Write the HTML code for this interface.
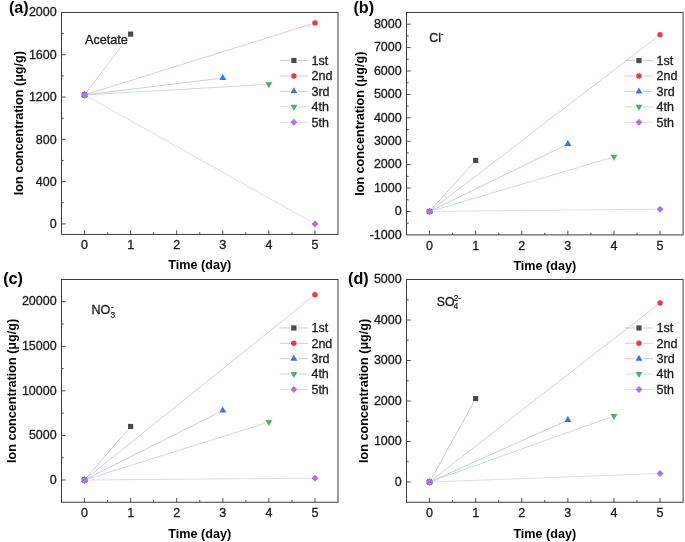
<!DOCTYPE html>
<html lang="en">
<head>
<meta charset="utf-8">
<title>Ion concentration vs time</title>
<style>
html,body{margin:0;padding:0;background:#fff;}
body{width:685px;height:542px;overflow:hidden;}
svg{display:block;}
text{font-family:"Liberation Sans", sans-serif;fill:#1a1a1a;}
.tk{font-size:12.5px;stroke:#1a1a1a;stroke-width:0.3px;}
.lg{font-size:12.5px;stroke:#1a1a1a;stroke-width:0.3px;}
.an{font-size:12.6px;stroke:#1a1a1a;stroke-width:0.3px;}
.ss{font-size:8.4px;stroke:#1a1a1a;stroke-width:0.2px;}
.ax{font-size:12.6px;font-weight:bold;fill:#000;}
.ay{font-size:12.6px;font-weight:bold;fill:#000;}
.pl{font-size:16.2px;font-weight:bold;fill:#000;}
</style>
</head>
<body>
<svg width="685" height="542" viewBox="0 0 685 542">
<rect x="0" y="0" width="685" height="542" fill="#ffffff"/>
<line x1="86.90" y1="91.80" x2="128.27" y2="37.23" stroke="#aeaeae" stroke-width="0.62"/>
<line x1="88.26" y1="93.75" x2="311.24" y2="24.18" stroke="#d9a5aa" stroke-width="0.62"/>
<line x1="88.41" y1="94.43" x2="218.92" y2="78.47" stroke="#9fb6d0" stroke-width="0.62"/>
<line x1="88.44" y1="94.68" x2="264.98" y2="84.56" stroke="#a6ccb9" stroke-width="0.62"/>
<line x1="87.94" y1="96.81" x2="311.56" y2="221.97" stroke="#d2c3e4" stroke-width="0.62"/>
<rect x="81.94" y="92.31" width="5.20" height="5.20" fill="#4a4a4a"/>
<rect x="128.03" y="31.52" width="5.20" height="5.20" fill="#4a4a4a"/>
<circle cx="84.54" cy="94.91" r="2.75" fill="#ee3a45"/>
<circle cx="314.96" cy="23.02" r="2.75" fill="#ee3a45"/>
<polygon points="84.54,90.91 88.04,96.91 81.04,96.91" fill="#3f72e6"/>
<polygon points="222.79,73.99 226.29,79.99 219.29,79.99" fill="#3f72e6"/>
<polygon points="81.04,92.81 88.04,92.81 84.54,98.81" fill="#4fb06a"/>
<polygon points="265.38,82.24 272.38,82.24 268.88,88.24" fill="#4fb06a"/>
<polygon points="84.54,91.41 88.04,94.91 84.54,98.41 81.04,94.91" fill="#b26ff0"/>
<polygon points="314.96,220.38 318.46,223.88 314.96,227.38 311.46,223.88" fill="#b26ff0"/>
<rect x="61.50" y="12.45" width="276.50" height="222.00" fill="none" stroke="#3c3c3c" stroke-width="1"/>
<line x1="84.54" y1="234.45" x2="84.54" y2="230.25" stroke="#3c3c3c" stroke-width="0.9"/>
<text x="84.54" y="249.25" text-anchor="middle" class="tk">0</text>
<line x1="107.58" y1="234.45" x2="107.58" y2="232.25" stroke="#3c3c3c" stroke-width="0.9"/>
<line x1="130.62" y1="234.45" x2="130.62" y2="230.25" stroke="#3c3c3c" stroke-width="0.9"/>
<text x="130.62" y="249.25" text-anchor="middle" class="tk">1</text>
<line x1="153.67" y1="234.45" x2="153.67" y2="232.25" stroke="#3c3c3c" stroke-width="0.9"/>
<line x1="176.71" y1="234.45" x2="176.71" y2="230.25" stroke="#3c3c3c" stroke-width="0.9"/>
<text x="176.71" y="249.25" text-anchor="middle" class="tk">2</text>
<line x1="199.75" y1="234.45" x2="199.75" y2="232.25" stroke="#3c3c3c" stroke-width="0.9"/>
<line x1="222.79" y1="234.45" x2="222.79" y2="230.25" stroke="#3c3c3c" stroke-width="0.9"/>
<text x="222.79" y="249.25" text-anchor="middle" class="tk">3</text>
<line x1="245.83" y1="234.45" x2="245.83" y2="232.25" stroke="#3c3c3c" stroke-width="0.9"/>
<line x1="268.88" y1="234.45" x2="268.88" y2="230.25" stroke="#3c3c3c" stroke-width="0.9"/>
<text x="268.88" y="249.25" text-anchor="middle" class="tk">4</text>
<line x1="291.92" y1="234.45" x2="291.92" y2="232.25" stroke="#3c3c3c" stroke-width="0.9"/>
<line x1="314.96" y1="234.45" x2="314.96" y2="230.25" stroke="#3c3c3c" stroke-width="0.9"/>
<text x="314.96" y="249.25" text-anchor="middle" class="tk">5</text>
<line x1="61.50" y1="223.88" x2="65.70" y2="223.88" stroke="#3c3c3c" stroke-width="0.9"/>
<text x="56.70" y="228.23" text-anchor="end" class="tk">0</text>
<line x1="61.50" y1="181.59" x2="65.70" y2="181.59" stroke="#3c3c3c" stroke-width="0.9"/>
<text x="56.70" y="185.94" text-anchor="end" class="tk">400</text>
<line x1="61.50" y1="139.31" x2="65.70" y2="139.31" stroke="#3c3c3c" stroke-width="0.9"/>
<text x="56.70" y="143.66" text-anchor="end" class="tk">800</text>
<line x1="61.50" y1="97.02" x2="65.70" y2="97.02" stroke="#3c3c3c" stroke-width="0.9"/>
<text x="56.70" y="101.37" text-anchor="end" class="tk">1200</text>
<line x1="61.50" y1="54.74" x2="65.70" y2="54.74" stroke="#3c3c3c" stroke-width="0.9"/>
<text x="56.70" y="59.09" text-anchor="end" class="tk">1600</text>
<text x="56.70" y="15.90" text-anchor="end" class="tk">2000</text>
<line x1="61.50" y1="202.74" x2="63.70" y2="202.74" stroke="#3c3c3c" stroke-width="0.9"/>
<line x1="61.50" y1="160.45" x2="63.70" y2="160.45" stroke="#3c3c3c" stroke-width="0.9"/>
<line x1="61.50" y1="118.16" x2="63.70" y2="118.16" stroke="#3c3c3c" stroke-width="0.9"/>
<line x1="61.50" y1="75.88" x2="63.70" y2="75.88" stroke="#3c3c3c" stroke-width="0.9"/>
<line x1="61.50" y1="33.59" x2="63.70" y2="33.59" stroke="#3c3c3c" stroke-width="0.9"/>
<text x="199.75" y="269.25" text-anchor="middle" class="ax">Time (day)</text>
<text transform="translate(23.45,123.15) rotate(-90)" text-anchor="middle" class="ay">Ion concentration (μg/g)</text>
<text x="8.90" y="13.30" class="pl">(a)</text>
<rect x="84.8" y="31" width="42.6" height="13.3" fill="#fff"/><text x="85" y="44.1" class="an">Acetate</text>
<line x1="279.90" y1="60.47" x2="290.00" y2="60.47" stroke="#aeaeae" stroke-width="0.62"/>
<line x1="297.80" y1="60.47" x2="307.90" y2="60.47" stroke="#aeaeae" stroke-width="0.62"/>
<rect x="291.30" y="57.87" width="5.20" height="5.20" fill="#4a4a4a"/>
<text x="311.50" y="64.87" class="lg">1st</text>
<line x1="279.90" y1="75.90" x2="290.00" y2="75.90" stroke="#d9a5aa" stroke-width="0.62"/>
<line x1="297.80" y1="75.90" x2="307.90" y2="75.90" stroke="#d9a5aa" stroke-width="0.62"/>
<circle cx="293.90" cy="75.90" r="2.75" fill="#ee3a45"/>
<text x="311.50" y="80.30" class="lg">2nd</text>
<line x1="279.90" y1="91.33" x2="290.00" y2="91.33" stroke="#9fb6d0" stroke-width="0.62"/>
<line x1="297.80" y1="91.33" x2="307.90" y2="91.33" stroke="#9fb6d0" stroke-width="0.62"/>
<polygon points="293.90,87.33 297.40,93.33 290.40,93.33" fill="#3f72e6"/>
<text x="311.50" y="95.73" class="lg">3rd</text>
<line x1="279.90" y1="106.76" x2="290.00" y2="106.76" stroke="#a6ccb9" stroke-width="0.62"/>
<line x1="297.80" y1="106.76" x2="307.90" y2="106.76" stroke="#a6ccb9" stroke-width="0.62"/>
<polygon points="290.40,104.66 297.40,104.66 293.90,110.66" fill="#4fb06a"/>
<text x="311.50" y="111.16" class="lg">4th</text>
<line x1="279.90" y1="122.19" x2="290.00" y2="122.19" stroke="#d2c3e4" stroke-width="0.62"/>
<line x1="297.80" y1="122.19" x2="307.90" y2="122.19" stroke="#d2c3e4" stroke-width="0.62"/>
<polygon points="293.90,118.69 297.40,122.19 293.90,125.69 290.40,122.19" fill="#b26ff0"/>
<text x="311.50" y="126.59" class="lg">5th</text>
<line x1="432.16" y1="208.59" x2="473.04" y2="163.33" stroke="#aeaeae" stroke-width="0.62"/>
<line x1="432.64" y1="209.11" x2="656.96" y2="37.07" stroke="#d9a5aa" stroke-width="0.62"/>
<line x1="433.06" y1="209.77" x2="564.34" y2="145.76" stroke="#9fb6d0" stroke-width="0.62"/>
<line x1="433.29" y1="210.38" x2="610.21" y2="158.03" stroke="#a6ccb9" stroke-width="0.62"/>
<line x1="433.45" y1="211.44" x2="656.15" y2="209.18" stroke="#d2c3e4" stroke-width="0.62"/>
<rect x="426.95" y="208.88" width="5.20" height="5.20" fill="#4a4a4a"/>
<rect x="473.05" y="157.84" width="5.20" height="5.20" fill="#4a4a4a"/>
<circle cx="429.55" cy="211.48" r="2.75" fill="#ee3a45"/>
<circle cx="660.05" cy="34.69" r="2.75" fill="#ee3a45"/>
<polygon points="429.55,207.48 433.05,213.48 426.05,213.48" fill="#3f72e6"/>
<polygon points="567.85,140.05 571.35,146.05 564.35,146.05" fill="#3f72e6"/>
<polygon points="426.05,209.38 433.05,209.38 429.55,215.38" fill="#4fb06a"/>
<polygon points="610.45,154.83 617.45,154.83 613.95,160.83" fill="#4fb06a"/>
<polygon points="429.55,207.98 433.05,211.48 429.55,214.98 426.05,211.48" fill="#b26ff0"/>
<polygon points="660.05,205.64 663.55,209.14 660.05,212.64 656.55,209.14" fill="#b26ff0"/>
<rect x="406.50" y="12.45" width="276.60" height="222.45" fill="none" stroke="#3c3c3c" stroke-width="1"/>
<line x1="429.55" y1="234.90" x2="429.55" y2="230.70" stroke="#3c3c3c" stroke-width="0.9"/>
<text x="429.55" y="249.90" text-anchor="middle" class="tk">0</text>
<line x1="452.60" y1="234.90" x2="452.60" y2="232.70" stroke="#3c3c3c" stroke-width="0.9"/>
<line x1="475.65" y1="234.90" x2="475.65" y2="230.70" stroke="#3c3c3c" stroke-width="0.9"/>
<text x="475.65" y="249.90" text-anchor="middle" class="tk">1</text>
<line x1="498.70" y1="234.90" x2="498.70" y2="232.70" stroke="#3c3c3c" stroke-width="0.9"/>
<line x1="521.75" y1="234.90" x2="521.75" y2="230.70" stroke="#3c3c3c" stroke-width="0.9"/>
<text x="521.75" y="249.90" text-anchor="middle" class="tk">2</text>
<line x1="544.80" y1="234.90" x2="544.80" y2="232.70" stroke="#3c3c3c" stroke-width="0.9"/>
<line x1="567.85" y1="234.90" x2="567.85" y2="230.70" stroke="#3c3c3c" stroke-width="0.9"/>
<text x="567.85" y="249.90" text-anchor="middle" class="tk">3</text>
<line x1="590.90" y1="234.90" x2="590.90" y2="232.70" stroke="#3c3c3c" stroke-width="0.9"/>
<line x1="613.95" y1="234.90" x2="613.95" y2="230.70" stroke="#3c3c3c" stroke-width="0.9"/>
<text x="613.95" y="249.90" text-anchor="middle" class="tk">4</text>
<line x1="637.00" y1="234.90" x2="637.00" y2="232.70" stroke="#3c3c3c" stroke-width="0.9"/>
<line x1="660.05" y1="234.90" x2="660.05" y2="230.70" stroke="#3c3c3c" stroke-width="0.9"/>
<text x="660.05" y="249.90" text-anchor="middle" class="tk">5</text>
<text x="401.70" y="238.65" text-anchor="end" class="tk">-1000</text>
<line x1="406.50" y1="211.48" x2="410.70" y2="211.48" stroke="#3c3c3c" stroke-width="0.9"/>
<text x="401.70" y="215.23" text-anchor="end" class="tk">0</text>
<line x1="406.50" y1="188.07" x2="410.70" y2="188.07" stroke="#3c3c3c" stroke-width="0.9"/>
<text x="401.70" y="191.82" text-anchor="end" class="tk">1000</text>
<line x1="406.50" y1="164.65" x2="410.70" y2="164.65" stroke="#3c3c3c" stroke-width="0.9"/>
<text x="401.70" y="168.40" text-anchor="end" class="tk">2000</text>
<line x1="406.50" y1="141.24" x2="410.70" y2="141.24" stroke="#3c3c3c" stroke-width="0.9"/>
<text x="401.70" y="144.99" text-anchor="end" class="tk">3000</text>
<line x1="406.50" y1="117.82" x2="410.70" y2="117.82" stroke="#3c3c3c" stroke-width="0.9"/>
<text x="401.70" y="121.57" text-anchor="end" class="tk">4000</text>
<line x1="406.50" y1="94.41" x2="410.70" y2="94.41" stroke="#3c3c3c" stroke-width="0.9"/>
<text x="401.70" y="98.16" text-anchor="end" class="tk">5000</text>
<line x1="406.50" y1="70.99" x2="410.70" y2="70.99" stroke="#3c3c3c" stroke-width="0.9"/>
<text x="401.70" y="74.74" text-anchor="end" class="tk">6000</text>
<line x1="406.50" y1="47.57" x2="410.70" y2="47.57" stroke="#3c3c3c" stroke-width="0.9"/>
<text x="401.70" y="51.32" text-anchor="end" class="tk">7000</text>
<line x1="406.50" y1="24.16" x2="410.70" y2="24.16" stroke="#3c3c3c" stroke-width="0.9"/>
<text x="401.70" y="27.91" text-anchor="end" class="tk">8000</text>
<line x1="406.50" y1="223.19" x2="408.70" y2="223.19" stroke="#3c3c3c" stroke-width="0.9"/>
<line x1="406.50" y1="199.78" x2="408.70" y2="199.78" stroke="#3c3c3c" stroke-width="0.9"/>
<line x1="406.50" y1="176.36" x2="408.70" y2="176.36" stroke="#3c3c3c" stroke-width="0.9"/>
<line x1="406.50" y1="152.94" x2="408.70" y2="152.94" stroke="#3c3c3c" stroke-width="0.9"/>
<line x1="406.50" y1="129.53" x2="408.70" y2="129.53" stroke="#3c3c3c" stroke-width="0.9"/>
<line x1="406.50" y1="106.11" x2="408.70" y2="106.11" stroke="#3c3c3c" stroke-width="0.9"/>
<line x1="406.50" y1="82.70" x2="408.70" y2="82.70" stroke="#3c3c3c" stroke-width="0.9"/>
<line x1="406.50" y1="59.28" x2="408.70" y2="59.28" stroke="#3c3c3c" stroke-width="0.9"/>
<line x1="406.50" y1="35.87" x2="408.70" y2="35.87" stroke="#3c3c3c" stroke-width="0.9"/>
<text x="544.80" y="270.40" text-anchor="middle" class="ax">Time (day)</text>
<text transform="translate(363.80,123.72) rotate(-90)" text-anchor="middle" class="ay">Ion concentration (μg/g)</text>
<text x="353.40" y="13.20" class="pl">(b)</text>
<text x="429.3" y="42.15" class="an" style="font-size:12.4px">Cl</text><text x="440.7" y="37.0" class="ss">-</text>
<line x1="624.95" y1="60.60" x2="635.05" y2="60.60" stroke="#aeaeae" stroke-width="0.62"/>
<line x1="642.85" y1="60.60" x2="652.95" y2="60.60" stroke="#aeaeae" stroke-width="0.62"/>
<rect x="636.35" y="58.00" width="5.20" height="5.20" fill="#4a4a4a"/>
<text x="656.55" y="65.00" class="lg">1st</text>
<line x1="624.95" y1="76.04" x2="635.05" y2="76.04" stroke="#d9a5aa" stroke-width="0.62"/>
<line x1="642.85" y1="76.04" x2="652.95" y2="76.04" stroke="#d9a5aa" stroke-width="0.62"/>
<circle cx="638.95" cy="76.04" r="2.75" fill="#ee3a45"/>
<text x="656.55" y="80.44" class="lg">2nd</text>
<line x1="624.95" y1="91.48" x2="635.05" y2="91.48" stroke="#9fb6d0" stroke-width="0.62"/>
<line x1="642.85" y1="91.48" x2="652.95" y2="91.48" stroke="#9fb6d0" stroke-width="0.62"/>
<polygon points="638.95,87.48 642.45,93.48 635.45,93.48" fill="#3f72e6"/>
<text x="656.55" y="95.88" class="lg">3rd</text>
<line x1="624.95" y1="106.92" x2="635.05" y2="106.92" stroke="#a6ccb9" stroke-width="0.62"/>
<line x1="642.85" y1="106.92" x2="652.95" y2="106.92" stroke="#a6ccb9" stroke-width="0.62"/>
<polygon points="635.45,104.82 642.45,104.82 638.95,110.82" fill="#4fb06a"/>
<text x="656.55" y="111.32" class="lg">4th</text>
<line x1="624.95" y1="122.36" x2="635.05" y2="122.36" stroke="#d2c3e4" stroke-width="0.62"/>
<line x1="642.85" y1="122.36" x2="652.95" y2="122.36" stroke="#d2c3e4" stroke-width="0.62"/>
<polygon points="638.95,118.86 642.45,122.36 638.95,125.86 635.45,122.36" fill="#b26ff0"/>
<text x="656.55" y="126.76" class="lg">5th</text>
<line x1="87.09" y1="477.02" x2="128.08" y2="429.47" stroke="#aeaeae" stroke-width="0.62"/>
<line x1="87.58" y1="477.53" x2="311.92" y2="297.09" stroke="#d9a5aa" stroke-width="0.62"/>
<line x1="88.03" y1="478.22" x2="219.31" y2="412.23" stroke="#9fb6d0" stroke-width="0.62"/>
<line x1="88.26" y1="478.81" x2="265.15" y2="423.23" stroke="#a6ccb9" stroke-width="0.62"/>
<line x1="88.44" y1="479.94" x2="311.06" y2="478.22" stroke="#d2c3e4" stroke-width="0.62"/>
<rect x="81.94" y="477.38" width="5.20" height="5.20" fill="#4a4a4a"/>
<rect x="128.03" y="423.91" width="5.20" height="5.20" fill="#4a4a4a"/>
<circle cx="84.54" cy="479.98" r="2.75" fill="#ee3a45"/>
<circle cx="314.96" cy="294.65" r="2.75" fill="#ee3a45"/>
<polygon points="84.54,475.98 88.04,481.98 81.04,481.98" fill="#3f72e6"/>
<polygon points="222.79,406.48 226.29,412.48 219.29,412.48" fill="#3f72e6"/>
<polygon points="81.04,477.88 88.04,477.88 84.54,483.88" fill="#4fb06a"/>
<polygon points="265.38,419.96 272.38,419.96 268.88,425.96" fill="#4fb06a"/>
<polygon points="84.54,476.48 88.04,479.98 84.54,483.48 81.04,479.98" fill="#b26ff0"/>
<polygon points="314.96,474.69 318.46,478.19 314.96,481.69 311.46,478.19" fill="#b26ff0"/>
<rect x="61.50" y="279.50" width="276.50" height="222.75" fill="none" stroke="#3c3c3c" stroke-width="1"/>
<line x1="84.54" y1="502.25" x2="84.54" y2="498.05" stroke="#3c3c3c" stroke-width="0.9"/>
<text x="84.54" y="516.65" text-anchor="middle" class="tk">0</text>
<line x1="107.58" y1="502.25" x2="107.58" y2="500.05" stroke="#3c3c3c" stroke-width="0.9"/>
<line x1="130.62" y1="502.25" x2="130.62" y2="498.05" stroke="#3c3c3c" stroke-width="0.9"/>
<text x="130.62" y="516.65" text-anchor="middle" class="tk">1</text>
<line x1="153.67" y1="502.25" x2="153.67" y2="500.05" stroke="#3c3c3c" stroke-width="0.9"/>
<line x1="176.71" y1="502.25" x2="176.71" y2="498.05" stroke="#3c3c3c" stroke-width="0.9"/>
<text x="176.71" y="516.65" text-anchor="middle" class="tk">2</text>
<line x1="199.75" y1="502.25" x2="199.75" y2="500.05" stroke="#3c3c3c" stroke-width="0.9"/>
<line x1="222.79" y1="502.25" x2="222.79" y2="498.05" stroke="#3c3c3c" stroke-width="0.9"/>
<text x="222.79" y="516.65" text-anchor="middle" class="tk">3</text>
<line x1="245.83" y1="502.25" x2="245.83" y2="500.05" stroke="#3c3c3c" stroke-width="0.9"/>
<line x1="268.88" y1="502.25" x2="268.88" y2="498.05" stroke="#3c3c3c" stroke-width="0.9"/>
<text x="268.88" y="516.65" text-anchor="middle" class="tk">4</text>
<line x1="291.92" y1="502.25" x2="291.92" y2="500.05" stroke="#3c3c3c" stroke-width="0.9"/>
<line x1="314.96" y1="502.25" x2="314.96" y2="498.05" stroke="#3c3c3c" stroke-width="0.9"/>
<text x="314.96" y="516.65" text-anchor="middle" class="tk">5</text>
<line x1="61.50" y1="479.98" x2="65.70" y2="479.98" stroke="#3c3c3c" stroke-width="0.9"/>
<text x="56.70" y="483.62" text-anchor="end" class="tk">0</text>
<line x1="61.50" y1="435.43" x2="65.70" y2="435.43" stroke="#3c3c3c" stroke-width="0.9"/>
<text x="56.70" y="439.07" text-anchor="end" class="tk">5000</text>
<line x1="61.50" y1="390.88" x2="65.70" y2="390.88" stroke="#3c3c3c" stroke-width="0.9"/>
<text x="56.70" y="394.52" text-anchor="end" class="tk">10000</text>
<line x1="61.50" y1="346.32" x2="65.70" y2="346.32" stroke="#3c3c3c" stroke-width="0.9"/>
<text x="56.70" y="349.97" text-anchor="end" class="tk">15000</text>
<line x1="61.50" y1="301.77" x2="65.70" y2="301.77" stroke="#3c3c3c" stroke-width="0.9"/>
<text x="56.70" y="305.42" text-anchor="end" class="tk">20000</text>
<line x1="61.50" y1="457.70" x2="63.70" y2="457.70" stroke="#3c3c3c" stroke-width="0.9"/>
<line x1="61.50" y1="413.15" x2="63.70" y2="413.15" stroke="#3c3c3c" stroke-width="0.9"/>
<line x1="61.50" y1="368.60" x2="63.70" y2="368.60" stroke="#3c3c3c" stroke-width="0.9"/>
<line x1="61.50" y1="324.05" x2="63.70" y2="324.05" stroke="#3c3c3c" stroke-width="0.9"/>
<text x="199.75" y="537.50" text-anchor="middle" class="ax">Time (day)</text>
<text transform="translate(16.00,390.93) rotate(-90)" text-anchor="middle" class="ay">Ion concentration (μg/g)</text>
<text x="3.20" y="284.45" class="pl">(c)</text>
<text x="91.4" y="313.9" class="an">NO</text><text x="110.4" y="317.7" class="ss">3</text><text x="111.1" y="309.9" class="ss">-</text>
<line x1="279.85" y1="327.95" x2="289.95" y2="327.95" stroke="#aeaeae" stroke-width="0.62"/>
<line x1="297.75" y1="327.95" x2="307.85" y2="327.95" stroke="#aeaeae" stroke-width="0.62"/>
<rect x="291.25" y="325.35" width="5.20" height="5.20" fill="#4a4a4a"/>
<text x="311.45" y="332.35" class="lg">1st</text>
<line x1="279.85" y1="343.33" x2="289.95" y2="343.33" stroke="#d9a5aa" stroke-width="0.62"/>
<line x1="297.75" y1="343.33" x2="307.85" y2="343.33" stroke="#d9a5aa" stroke-width="0.62"/>
<circle cx="293.85" cy="343.33" r="2.75" fill="#ee3a45"/>
<text x="311.45" y="347.73" class="lg">2nd</text>
<line x1="279.85" y1="358.71" x2="289.95" y2="358.71" stroke="#9fb6d0" stroke-width="0.62"/>
<line x1="297.75" y1="358.71" x2="307.85" y2="358.71" stroke="#9fb6d0" stroke-width="0.62"/>
<polygon points="293.85,354.71 297.35,360.71 290.35,360.71" fill="#3f72e6"/>
<text x="311.45" y="363.11" class="lg">3rd</text>
<line x1="279.85" y1="374.09" x2="289.95" y2="374.09" stroke="#a6ccb9" stroke-width="0.62"/>
<line x1="297.75" y1="374.09" x2="307.85" y2="374.09" stroke="#a6ccb9" stroke-width="0.62"/>
<polygon points="290.35,371.99 297.35,371.99 293.85,377.99" fill="#4fb06a"/>
<text x="311.45" y="378.49" class="lg">4th</text>
<line x1="279.85" y1="389.47" x2="289.95" y2="389.47" stroke="#d2c3e4" stroke-width="0.62"/>
<line x1="297.75" y1="389.47" x2="307.85" y2="389.47" stroke="#d2c3e4" stroke-width="0.62"/>
<polygon points="293.85,385.97 297.35,389.47 293.85,392.97 290.35,389.47" fill="#b26ff0"/>
<text x="311.45" y="393.87" class="lg">5th</text>
<line x1="431.44" y1="478.59" x2="473.76" y2="401.98" stroke="#aeaeae" stroke-width="0.62"/>
<line x1="432.63" y1="479.61" x2="656.97" y2="305.38" stroke="#d9a5aa" stroke-width="0.62"/>
<line x1="433.11" y1="480.41" x2="564.29" y2="421.63" stroke="#9fb6d0" stroke-width="0.62"/>
<line x1="433.22" y1="480.69" x2="610.28" y2="417.30" stroke="#a6ccb9" stroke-width="0.62"/>
<line x1="433.45" y1="481.86" x2="656.15" y2="473.64" stroke="#d2c3e4" stroke-width="0.62"/>
<rect x="426.95" y="479.40" width="5.20" height="5.20" fill="#4a4a4a"/>
<rect x="473.05" y="395.97" width="5.20" height="5.20" fill="#4a4a4a"/>
<circle cx="429.55" cy="482.00" r="2.75" fill="#ee3a45"/>
<circle cx="660.05" cy="302.99" r="2.75" fill="#ee3a45"/>
<polygon points="429.55,478.00 433.05,484.00 426.05,484.00" fill="#3f72e6"/>
<polygon points="567.85,416.03 571.35,422.03 564.35,422.03" fill="#3f72e6"/>
<polygon points="426.05,479.90 433.05,479.90 429.55,485.90" fill="#4fb06a"/>
<polygon points="610.45,413.88 617.45,413.88 613.95,419.88" fill="#4fb06a"/>
<polygon points="429.55,478.50 433.05,482.00 429.55,485.50 426.05,482.00" fill="#b26ff0"/>
<polygon points="660.05,470.00 663.55,473.50 660.05,477.00 656.55,473.50" fill="#b26ff0"/>
<rect x="406.50" y="279.50" width="276.60" height="222.75" fill="none" stroke="#3c3c3c" stroke-width="1"/>
<line x1="429.55" y1="502.25" x2="429.55" y2="498.05" stroke="#3c3c3c" stroke-width="0.9"/>
<text x="429.55" y="516.65" text-anchor="middle" class="tk">0</text>
<line x1="452.60" y1="502.25" x2="452.60" y2="500.05" stroke="#3c3c3c" stroke-width="0.9"/>
<line x1="475.65" y1="502.25" x2="475.65" y2="498.05" stroke="#3c3c3c" stroke-width="0.9"/>
<text x="475.65" y="516.65" text-anchor="middle" class="tk">1</text>
<line x1="498.70" y1="502.25" x2="498.70" y2="500.05" stroke="#3c3c3c" stroke-width="0.9"/>
<line x1="521.75" y1="502.25" x2="521.75" y2="498.05" stroke="#3c3c3c" stroke-width="0.9"/>
<text x="521.75" y="516.65" text-anchor="middle" class="tk">2</text>
<line x1="544.80" y1="502.25" x2="544.80" y2="500.05" stroke="#3c3c3c" stroke-width="0.9"/>
<line x1="567.85" y1="502.25" x2="567.85" y2="498.05" stroke="#3c3c3c" stroke-width="0.9"/>
<text x="567.85" y="516.65" text-anchor="middle" class="tk">3</text>
<line x1="590.90" y1="502.25" x2="590.90" y2="500.05" stroke="#3c3c3c" stroke-width="0.9"/>
<line x1="613.95" y1="502.25" x2="613.95" y2="498.05" stroke="#3c3c3c" stroke-width="0.9"/>
<text x="613.95" y="516.65" text-anchor="middle" class="tk">4</text>
<line x1="637.00" y1="502.25" x2="637.00" y2="500.05" stroke="#3c3c3c" stroke-width="0.9"/>
<line x1="660.05" y1="502.25" x2="660.05" y2="498.05" stroke="#3c3c3c" stroke-width="0.9"/>
<text x="660.05" y="516.65" text-anchor="middle" class="tk">5</text>
<line x1="406.50" y1="482.00" x2="410.70" y2="482.00" stroke="#3c3c3c" stroke-width="0.9"/>
<text x="401.70" y="485.85" text-anchor="end" class="tk">0</text>
<line x1="406.50" y1="441.50" x2="410.70" y2="441.50" stroke="#3c3c3c" stroke-width="0.9"/>
<text x="401.70" y="445.35" text-anchor="end" class="tk">1000</text>
<line x1="406.50" y1="401.00" x2="410.70" y2="401.00" stroke="#3c3c3c" stroke-width="0.9"/>
<text x="401.70" y="404.85" text-anchor="end" class="tk">2000</text>
<line x1="406.50" y1="360.50" x2="410.70" y2="360.50" stroke="#3c3c3c" stroke-width="0.9"/>
<text x="401.70" y="364.35" text-anchor="end" class="tk">3000</text>
<line x1="406.50" y1="320.00" x2="410.70" y2="320.00" stroke="#3c3c3c" stroke-width="0.9"/>
<text x="401.70" y="323.85" text-anchor="end" class="tk">4000</text>
<text x="401.70" y="283.35" text-anchor="end" class="tk">5000</text>
<line x1="406.50" y1="461.75" x2="408.70" y2="461.75" stroke="#3c3c3c" stroke-width="0.9"/>
<line x1="406.50" y1="421.25" x2="408.70" y2="421.25" stroke="#3c3c3c" stroke-width="0.9"/>
<line x1="406.50" y1="380.75" x2="408.70" y2="380.75" stroke="#3c3c3c" stroke-width="0.9"/>
<line x1="406.50" y1="340.25" x2="408.70" y2="340.25" stroke="#3c3c3c" stroke-width="0.9"/>
<line x1="406.50" y1="299.75" x2="408.70" y2="299.75" stroke="#3c3c3c" stroke-width="0.9"/>
<text x="544.80" y="537.50" text-anchor="middle" class="ax">Time (day)</text>
<text transform="translate(368.35,390.88) rotate(-90)" text-anchor="middle" class="ay">Ion concentration (μg/g)</text>
<text x="348.10" y="284.45" class="pl">(d)</text>
<text x="436.8" y="306.1" class="an" style="font-size:12.3px">SO</text><text x="453.5" y="308.8" class="ss">4</text><text x="453.7" y="301.1" class="ss">2-</text>
<line x1="625.00" y1="327.95" x2="635.10" y2="327.95" stroke="#aeaeae" stroke-width="0.62"/>
<line x1="642.90" y1="327.95" x2="653.00" y2="327.95" stroke="#aeaeae" stroke-width="0.62"/>
<rect x="636.40" y="325.35" width="5.20" height="5.20" fill="#4a4a4a"/>
<text x="656.60" y="332.35" class="lg">1st</text>
<line x1="625.00" y1="343.33" x2="635.10" y2="343.33" stroke="#d9a5aa" stroke-width="0.62"/>
<line x1="642.90" y1="343.33" x2="653.00" y2="343.33" stroke="#d9a5aa" stroke-width="0.62"/>
<circle cx="639.00" cy="343.33" r="2.75" fill="#ee3a45"/>
<text x="656.60" y="347.73" class="lg">2nd</text>
<line x1="625.00" y1="358.71" x2="635.10" y2="358.71" stroke="#9fb6d0" stroke-width="0.62"/>
<line x1="642.90" y1="358.71" x2="653.00" y2="358.71" stroke="#9fb6d0" stroke-width="0.62"/>
<polygon points="639.00,354.71 642.50,360.71 635.50,360.71" fill="#3f72e6"/>
<text x="656.60" y="363.11" class="lg">3rd</text>
<line x1="625.00" y1="374.09" x2="635.10" y2="374.09" stroke="#a6ccb9" stroke-width="0.62"/>
<line x1="642.90" y1="374.09" x2="653.00" y2="374.09" stroke="#a6ccb9" stroke-width="0.62"/>
<polygon points="635.50,371.99 642.50,371.99 639.00,377.99" fill="#4fb06a"/>
<text x="656.60" y="378.49" class="lg">4th</text>
<line x1="625.00" y1="389.47" x2="635.10" y2="389.47" stroke="#d2c3e4" stroke-width="0.62"/>
<line x1="642.90" y1="389.47" x2="653.00" y2="389.47" stroke="#d2c3e4" stroke-width="0.62"/>
<polygon points="639.00,385.97 642.50,389.47 639.00,392.97 635.50,389.47" fill="#b26ff0"/>
<text x="656.60" y="393.87" class="lg">5th</text>
</svg>
</body>
</html>
